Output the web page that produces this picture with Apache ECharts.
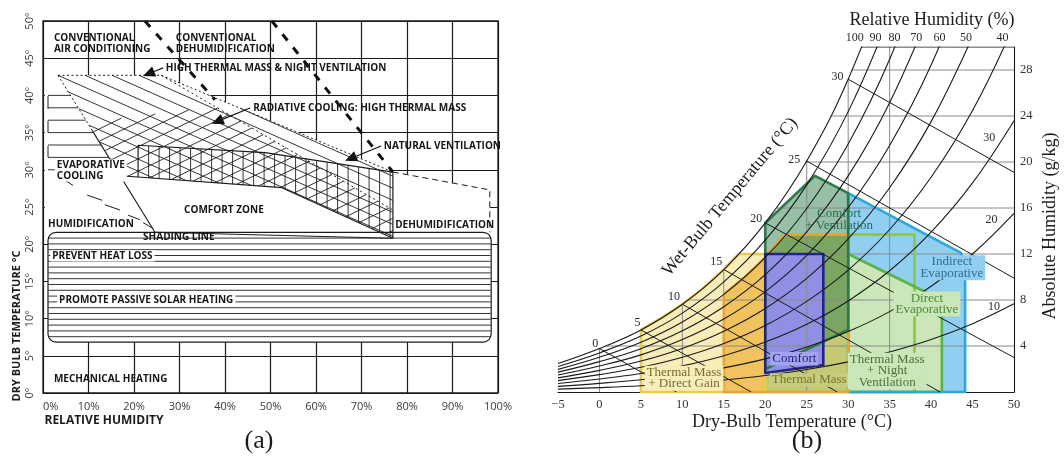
<!DOCTYPE html>
<html>
<head>
<meta charset="utf-8">
<title>Bioclimatic and psychrometric design charts</title>
<script src="https://cdn.jsdelivr.net/npm/echarts@6/dist/echarts.min.js"></script>
<style>
  html, body { margin:0; padding:0; background:#fff; }
  #chart { width:1064px; height:463px; }
</style>
</head>
<body>
<div id="chart"></div>
<script>
/* ---------- (a) Bioclimatic chart: x = relative humidity (%), y = dry-bulb temperature (°C) ---------- */
const COMFORT_ZONE      = [[17.1,29.2],[52.5,27.6],[76.9,20.8],[24.6,21.6]];
const MASS_NIGHT_VENT   = [[3.3,42.7],[26,42.7],[76.9,29.7],[76.9,20.8],[52.5,27.6],[17.1,29.2]];
const RADIATIVE_COOLING = [[9.9,36.4],[37.8,38.5],[76.9,24.6],[76.9,20.8],[52.5,27.6],[17.1,29.2]];
const NATURAL_VENT      = [[20.9,29.0],[20.9,33.3],[48.8,32.3],[76.9,29.7],[76.9,20.8],[52.5,27.6]];
const EVAP_COOLING      = [[1.1,40.4],[5.6,40.4],[16.5,29.6],[1.1,29.6]];
const SOLAR_BAND        = [[1.1,21.6],[98.5,6.85]];
const UPPER_BLANK       = [[0.4,40.6],[3.3,42.7],[26,42.7],[76.9,29.7],[98.2,27.3],[98.2,21.6],[0.4,21.6]];
const DIAG_DOTTED       = [[3.3,42.7],[10.8,35.3]];
const DIAG_SOLID        = [[10.8,35.3],[24.6,21.6]];
const UPPER_DOTTED      = [[3.3,42.7],[26,42.7],[76.9,29.7]];
const INNER_DOTTED      = [[26,42.7],[76.9,24.6]];
const NV_LIMIT_1        = [[22.4,50],[37.8,39.4]];
const NV_LIMIT_2        = [[50.3,50],[76.9,29.7]];
const DEHUM_LIMIT       = [[76.9,29.7],[98.2,27.3],[98.2,21.6]];
const HUMID_STUBS       = [[[4.8,28.6],[6.6,27.9]],[[9.7,26.6],[13.0,25.9]],[[13.6,25.3],[16.9,24.6]],[[18.7,23.9],[21.3,23.3]],[[22.0,22.9],[24.2,22.1]]];
const EVAP_TICKS        = [[[1.1,39.9],[1.1,38.2]],[[1.1,36.6],[1.1,35.0]],[[1.1,33.2],[1.1,31.7]]];
const ARROWS            = [[[26.4,43.7],[22.0,42.6]],[[45.5,38.3],[37.1,36.2]],[[74.3,33.2],[66.4,31.2]]];

const A_LABELS = [
  ['CONVENTIONAL\nAIR CONDITIONING', [2.4,47.0], false],
  ['CONVENTIONAL\nDEHUMIDIFICATION', [29.2,47.0], false],
  ['HIGH THERMAL MASS & NIGHT VENTILATION', [27.0,43.7], false],
  ['RADIATIVE COOLING: HIGH THERMAL MASS', [46.2,38.3], false],
  ['NATURAL VENTILATION', [74.9,33.2], false],
  ['EVAPORATIVE\nCOOLING', [2.6,29.9], true],
  ['COMFORT ZONE', [31.0,24.6], false],
  ['HUMIDIFICATION', [1.1,22.7], false],
  ['SHADING LINE', [22.0,21.0], false],
  ['PREVENT HEAT LOSS', [1.6,18.4], true],
  ['PROMOTE PASSIVE SOLAR HEATING', [3.1,12.5], true],
  ['DEHUMIDIFICATION', [77.4,22.6], false],
  ['MECHANICAL HEATING', [2.4,1.9], false]
];

/* ---------- (b) Psychrometric chart: x = dry-bulb (°C), y = absolute humidity (g/kg) ---------- */
const DRY_BULB = [-5,0,5,10,15,20,25,30,35,40,45,50];
const W_RH100 = [2.47,3.78,5.40,7.63,10.65,14.70,20.08,27.20,36.57];
const W_RH90  = [2.22,3.40,4.86,6.86,9.57,13.20,18.01,24.38,32.72];
const W_RH80  = [1.97,3.02,4.32,6.09,8.49,11.70,15.96,21.57,28.93,38.5];
const W_RH70  = [1.73,2.64,3.77,5.32,7.42,10.21,13.92,18.79,25.16,33.4];
const W_RH60  = [1.48,2.26,3.23,4.56,6.35,8.73,11.89,16.03,21.44,28.43,37.4];
const W_RH50  = [1.23,1.88,2.69,3.79,5.28,7.26,9.88,13.31,17.76,23.51,30.9];
const W_RH40  = [0.99,1.51,2.15,3.03,4.22,5.79,7.88,10.60,14.13,18.67,24.47,31.9];
const W_RH30  = [0.74,1.13,1.61,2.27,3.16,4.34,5.89,7.92,10.54,13.90,18.18,23.59];
const W_RH20  = [0.49,0.75,1.07,1.51,2.10,2.88,3.91,5.26,6.99,9.20,12.00,15.53];
const W_RH10  = [0.25,0.38,0.54,0.76,1.05,1.44,1.95,2.62,3.48,4.56,5.94,7.67];
const RH_CURVES = [W_RH100,W_RH90,W_RH80,W_RH70,W_RH60,W_RH50,W_RH40,W_RH30,W_RH20,W_RH10];

const WET_BULB = [0,5,10,15,20,25,30];
const WB_ENDS  = [[9.3,0],[18.3,0],[28.7,0],[41.1,0],[50,3.0],[50,9.9],[50,19.1]];

const GRID_T   = [0,5,10,15,20,25,30,35,40,45];
const GRID_W   = [4,8,12,16,20,24,28];
const DEW_T    = [0.8,10.7,16.8,21.3,24.9,27.9,30.4];
const TOP_EDGE = [[31.6,30],[50,30]];

const DIRECT_GAIN   = [[5,0],[5,5.40],[7.5,6.44],[10,7.63],[12.5,9.03],[15,10.65],[16.8,12],[20,12],[20,0]];
const THERMAL_MASS  = [[15,0],[15,8.49],[17.5,9.98],[20,11.7],[22.3,13.7],[30,13.7],[30,0]];
const NIGHT_VENT    = [[20,0],[20,11.7],[22.3,13.7],[38,13.7],[38,0]];
const INDIRECT_EVAP = [[30,0],[30,17.3],[43.6,12.1],[44.1,11],[44.1,0]];
const DIRECT_EVAP   = [[30,0],[30,12],[41.3,8.0],[41.3,0]];
const COMFORT_VENT  = [[20,2.0],[20,14.7],[26,18.8],[30,17.3],[30,5.4]];
const COMFORT       = [[20,1.65],[20,12],[27,12],[27,2.35]];

const RH_TOP_LABELS  = [[100,30.8],[90,33.3],[80,35.6],[70,38.2],[60,41.0],[50,44.2],[40,48.6]];
const RH_SIDE_LABELS = [[30,[47.0,22.1]],[20,[47.3,15.0]],[10,[47.6,7.4]]];
const WB_LABEL_AT    = [[-0.5,4.2],[4.6,6.0],[9.0,8.3],[14.1,11.3],[18.9,15.1],[23.5,20.2],[28.7,27.4]];

const B_LABELS = [
  ['Thermal Mass\n+ Direct Gain', [10.2,1.2], '#7b6a32', '#f7edb9'],
  ['Thermal Mass', [25.3,1.05], '#75742e', '#c8cb7c'],
  ['Comfort', [23.5,2.9], '#22228a', '#a3a4ec'],
  ['Thermal Mass\n+ Night\nVentilation', [34.7,1.83], '#4e6e3a', '#cbe6b9'],
  ['Direct\nEvaporative', [39.5,7.65], '#4a8a3a', '#cbe6b9'],
  ['Indirect\nEvaporative', [42.5,10.8], '#2f6f8e', '#90cff0'],
  ['Comfort\n+ Ventilation', [28.9,15.0], '#2a6a58', null]
];

/* ---------- helpers ---------- */
// Parallel hatch segments of a pixel polygon: direction angle (deg), perpendicular gap (px), through anchor.
function hatchSegments(pts, angleDeg, gap, anchor) {
  const a = angleDeg * Math.PI / 180;
  const d = [Math.cos(a), Math.sin(a)], n = [-d[1], d[0]];
  let mn = Infinity, mx = -Infinity;
  pts.forEach(p => { const s = p[0]*n[0] + p[1]*n[1]; mn = Math.min(mn, s); mx = Math.max(mx, s); });
  const s0 = anchor[0]*n[0] + anchor[1]*n[1];
  const segs = [];
  for (let k = Math.ceil((mn - s0)/gap); k <= Math.floor((mx - s0)/gap); k++) {
    const s = s0 + k*gap + 1e-4;
    const base = [s*n[0], s*n[1]];
    const ts = [];
    for (let i = 0; i < pts.length; i++) {
      const A = pts[i], B = pts[(i+1) % pts.length];
      const sa = A[0]*n[0] + A[1]*n[1] - s, sb = B[0]*n[0] + B[1]*n[1] - s;
      if ((sa < 0) !== (sb < 0)) {
        const u = sa / (sa - sb);
        const P = [A[0] + u*(B[0]-A[0]), A[1] + u*(B[1]-A[1])];
        ts.push(P[0]*d[0] + P[1]*d[1]);
      }
    }
    ts.sort((x, y) => x - y);
    for (let j = 0; j + 1 < ts.length; j += 2) {
      segs.push([[base[0]+ts[j]*d[0], base[1]+ts[j]*d[1]], [base[0]+ts[j+1]*d[0], base[1]+ts[j+1]*d[1]]]);
    }
  }
  return segs;
}
const seg = (p, q, stroke, w) => ({ type:'line', shape:{x1:p[0],y1:p[1],x2:q[0],y2:q[1]}, style:{stroke, lineWidth:w} });

function lineA(data, style, z) {
  return { type:'line', xAxisIndex:0, yAxisIndex:0, data, symbol:'none', silent:true, z: z || 3,
           lineStyle: Object.assign({ color:'#1c1c1c', width:1.1 }, style) };
}
function lineB(data, style, z, smooth) {
  return { type:'line', xAxisIndex:1, yAxisIndex:1, data, symbol:'none', silent:true, z: z || 4,
           smooth: smooth || false, lineStyle: Object.assign({ color:'#1a1a1a', width:1.1 }, style) };
}
function customA(renderItem, z) {
  return { type:'custom', coordinateSystem:'cartesian2d', xAxisIndex:0, yAxisIndex:0, silent:true, z, data:[[50,25]], renderItem };
}
function customB(renderItem, z) {
  return { type:'custom', coordinateSystem:'cartesian2d', xAxisIndex:1, yAxisIndex:1, silent:true, z, data:[[20,10]], renderItem };
}

const SANS = "'Open Sans', 'DejaVu Sans', sans-serif";
const SERIF = "'Liberation Serif', 'DejaVu Serif', serif";

/* ---------- panel (a) series ---------- */
const seriesA = [
  // blank (white) areas that hide the background grid
  customA((params, api) => {
    const a = api.coord(SOLAR_BAND[0]), b = api.coord(SOLAR_BAND[1]);
    return { type:'group', children:[
      { type:'polygon', shape:{ points: UPPER_BLANK.map(p => api.coord(p)) }, style:{ fill:'#fff' } },
      { type:'rect', shape:{ x:a[0], y:a[1], width:b[0]-a[0], height:b[1]-a[1], r:8 },
        style:{ fill:'#fff', stroke:'#1c1c1c', lineWidth:1.2 } }
    ]};
  }, 1),
  // hatching of the strategy zones
  customA((params, api) => {
    const children = [];
    const hatch = (poly, angle, gap, anchor) => {
      hatchSegments(poly.map(p => api.coord(p)), angle, gap, api.coord(anchor))
        .forEach(s => children.push(seg(s[0], s[1], '#1e1e1e', 0.9)));
    };
    hatch(MASS_NIGHT_VENT, 24, 11, MASS_NIGHT_VENT[0]);
    hatch(RADIATIVE_COOLING, -26, 11, RADIATIVE_COOLING[0]);
    hatch(NATURAL_VENT, 90, 10.5, NATURAL_VENT[0]);
    hatch(EVAP_COOLING, 0, 12.4, [1.1,40]);
    const a = api.coord(SOLAR_BAND[0]), b = api.coord(SOLAR_BAND[1]);
    const band = [[a[0]+0.5,a[1]+0.5],[b[0]-0.5,a[1]+0.5],[b[0]-0.5,b[1]-0.5],[a[0]+0.5,b[1]-0.5]];
    hatchSegments(band, 0, 5.8, a).forEach(s => children.push(seg(s[0], s[1], '#1e1e1e', 0.9)));
    HUMID_STUBS.concat(EVAP_TICKS).forEach(s => children.push(seg(api.coord(s[0]), api.coord(s[1]), '#1e1e1e', 1)));
    return { type:'group', children };
  }, 2),
  lineA(DIAG_DOTTED, { type:[2,2.5], width:1 }),
  lineA(DIAG_SOLID, {}),
  lineA(UPPER_DOTTED, { type:[2,2.5], width:1 }),
  lineA(INNER_DOTTED, { type:[2,3], width:1 }),
  lineA(COMFORT_ZONE.slice(0,3), {}),
  lineA([COMFORT_ZONE[3], COMFORT_ZONE[2]], {}),
  lineA(NATURAL_VENT.slice(0,5), { width:1.2 }),
  lineA(DEHUM_LIMIT, { type:[6,4], width:1 }),
  lineA(NV_LIMIT_1, { type:[8,9], width:3, color:'#111' }, 4),
  lineA(NV_LIMIT_2, { type:[8,9], width:3, color:'#111' }, 4),
  // arrows pointing to the zones
  customA((params, api) => {
    const children = [];
    ARROWS.forEach(([s, t]) => {
      const p = api.coord(s), q = api.coord(t);
      const dx = q[0]-p[0], dy = q[1]-p[1], L = Math.hypot(dx, dy), ux = dx/L, uy = dy/L;
      const bx = q[0] - ux*12, by = q[1] - uy*12;
      children.push(seg(p, [bx, by], '#111', 1.1));
      children.push({ type:'polygon', shape:{ points:[q, [bx - uy*5.5, by + ux*5.5], [bx + uy*5.5, by - ux*5.5]] },
                      style:{ fill:'#111' } });
    });
    return { type:'group', children };
  }, 4),
  // zone captions
  customA((params, api) => ({
    type:'group',
    children: A_LABELS.map(([text, at, boxed]) => {
      const p = api.coord(at);
      return { type:'text', x:p[0], y:p[1], style:{
        text, font:"bold 10px " + SANS, fill:'#161616', align:'left', verticalAlign:'middle',
        textAlign:'left', textVerticalAlign:'middle', lineHeight:11,
        backgroundColor: boxed ? '#fff' : null, padding: boxed ? [0,2] : 0 } };
    })
  }), 5)
];

/* ---------- panel (b) series ---------- */
const ZONE_FILLS = [
  [DIRECT_GAIN, 'rgba(240,215,100,0.45)'],
  [THERMAL_MASS, 'rgba(235,160,20,0.55)'],
  [NIGHT_VENT, 'rgba(140,200,100,0.45)'],
  [INDIRECT_EVAP, '#90cff0'],
  [DIRECT_EVAP, '#cbe6b9'],
  [COMFORT_VENT, 'rgba(55,135,85,0.52)'],
  [COMFORT, '#8f90e4']
];
const ZONE_EDGES = [
  [NIGHT_VENT, '#8cc63f'],
  [DIRECT_EVAP, '#5cb24a'],
  [INDIRECT_EVAP, '#2ea6df'],
  [DIRECT_GAIN, '#e9cc4f'],
  [THERMAL_MASS, '#e8a53a'],
  [COMFORT_VENT, '#2f7a48'],
  [COMFORT, '#23238c']
];
const satAt = t => Math.min(30, W_RH100[DRY_BULB.indexOf(t)]);

const seriesB = [
  customB((params, api) => ({ type:'group', children: ZONE_FILLS.map(([poly, fill], i) => ({
    type:'polygon', z2:i, shape:{ points: poly.map(p => api.coord(p)) }, style:{ fill } })) }), 1),
  customB((params, api) => {
    const children = [];
    GRID_T.forEach(t => children.push(seg(api.coord([t,0]), api.coord([t, satAt(t)]), '#8a8a8a', 1)));
    GRID_W.forEach((w, i) => children.push(seg(api.coord([DEW_T[i], w]), api.coord([50, w]), '#8a8a8a', 1)));
    return { type:'group', children };
  }, 2),
  customB((params, api) => ({ type:'group', children: ZONE_EDGES.map(([poly, stroke], i) => ({
    type:'polygon', z2:i, shape:{ points: poly.map(p => api.coord(p)) },
    style:{ fill:null, stroke, lineWidth:2.6, lineJoin:'round' } })) }), 3)
];
RH_CURVES.forEach(arr => seriesB.push(lineB(arr.map((w, i) => [DRY_BULB[i], w]), {}, 4, 0.4)));
WET_BULB.forEach((t, i) => seriesB.push(lineB([[t, satAt(t)], WB_ENDS[i]], { width:1 }, 4)));
seriesB.push(lineB(TOP_EDGE, { width:1.1 }, 4));
seriesB.push(customB((params, api) => {
  const children = [];
  const put = (text, at, font, fill, bg) => {
    const p = api.coord(at);
    children.push({ type:'text', x:p[0], y:p[1], style:{ text, font, fill, align:'center', verticalAlign:'middle',
      textAlign:'center', textVerticalAlign:'middle', lineHeight:11.5, backgroundColor: bg, padding: bg ? [1,2] : 0 } });
  };
  B_LABELS.forEach(([text, at, color, bg]) => put(text, at, '13px ' + SERIF, color, bg));
  RH_TOP_LABELS.forEach(([rh, t]) => put(String(rh), [t, 30.8], '12px ' + SERIF, '#2a2a2a', null));
  RH_SIDE_LABELS.forEach(([rh, at]) => put(String(rh), at, '12px ' + SERIF, '#2a2a2a', null));
  WET_BULB.forEach((t, i) => put(String(t), WB_LABEL_AT[i], '12px ' + SERIF, '#2a2a2a', null));
  return { type:'group', children };
}, 5));

/* ---------- chart ---------- */
const chart = echarts.init(document.getElementById('chart'), null, { renderer:'canvas', width:1064, height:463 });
const titleText = (text, x, y, font, rotation) => ({
  type:'text', x, y, rotation: rotation || 0, silent:true,
  style:{ text, font, fill:'#1c1c1c', align:'center', verticalAlign:'middle', textAlign:'center', textVerticalAlign:'middle' }
});

chart.setOption({
  animation:false,
  backgroundColor:'#fff',
  grid:[
    { left:43, top:21, width:455, height:372, show:true, borderColor:'#1c1c1c', borderWidth:1.3, backgroundColor:'transparent' },
    { left:558, top:47, width:456, height:345, show:false }
  ],
  xAxis:[
    { gridIndex:0, type:'value', min:0, max:100, interval:10,
      axisLine:{ show:false }, axisTick:{ show:false },
      splitLine:{ show:true, lineStyle:{ color:'#1c1c1c', width:1.2 } },
      axisLabel:{ formatter:'{value}%', color:'#3a3a3a', fontFamily:SANS, fontSize:11, margin:8, alignMinLabel:'left' } },
    { gridIndex:1, type:'value', min:-5, max:50, interval:5,
      axisLine:{ show:true, onZero:false, lineStyle:{ color:'#1a1a1a', width:1.1 } }, axisTick:{ show:false }, splitLine:{ show:false },
      axisLabel:{ formatter: v => v < 0 ? '\u2212' + Math.abs(v) : String(v), color:'#333', fontFamily:SERIF, fontSize:12.5, margin:6 } }
  ],
  yAxis:[
    { gridIndex:0, type:'value', min:0, max:50, interval:5,
      axisLine:{ show:false }, axisTick:{ show:false },
      splitLine:{ show:true, lineStyle:{ color:'#1c1c1c', width:1.2 } },
      axisLabel:{ formatter:'{value}°', rotate:90, color:'#3a3a3a', fontFamily:SANS, fontSize:11, margin:8 } },
    { gridIndex:1, type:'value', position:'right', min:0, max:30, interval:4,
      axisLine:{ show:true, onZero:false, lineStyle:{ color:'#1a1a1a', width:1.1 } }, axisTick:{ show:false }, splitLine:{ show:false },
      axisLabel:{ formatter: v => (v === 0 || v === 30) ? '' : String(v), color:'#333', fontFamily:SERIF, fontSize:12.5, margin:6 } }
  ],
  graphic:[
    titleText('RELATIVE HUMIDITY', 104, 421, "bold 12px " + SANS),
    titleText('DRY BULB TEMPERATURE °C', 17, 326, "bold 11px " + SANS, Math.PI/2),
    titleText('(a)', 259, 441, "26px " + SERIF),
    titleText('(b)', 807, 441, "26px " + SERIF),
    titleText('Relative Humidity (%)', 932, 20, "18px " + SERIF),
    titleText('Dry-Bulb Temperature (°C)', 792, 422, "18px " + SERIF),
    titleText('Absolute Humidity (g/kg)', 1050, 226, "18px " + SERIF, Math.PI/2),
    titleText('Wet-Bulb Temperature (°C)', 730, 197, "18px " + SERIF, 50*Math.PI/180)
  ],
  series: seriesA.concat(seriesB)
});
</script>
</body>
</html>
